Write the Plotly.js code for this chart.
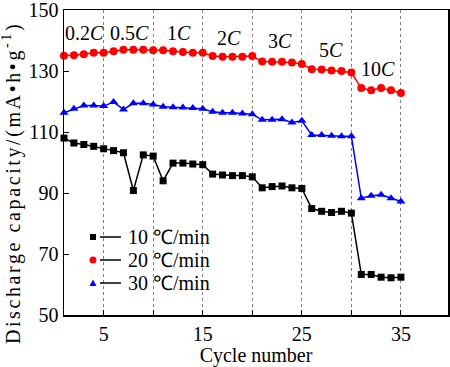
<!DOCTYPE html>
<html>
<head>
<meta charset="utf-8">
<script src="https://cdn.plot.ly/plotly-3.0.1.min.js"></script>
<style>html,body{margin:0;padding:0;background:#fff;}#chart{width:450px;height:367px;}</style>
</head>
<body>
<div id="chart"></div>
<script>
var cycles = [1,2,3,4,5,6,7,8,9,10,11,12,13,14,15,16,17,18,19,20,21,22,23,24,25,26,27,28,29,30,31,32,33,34,35];
var cap10 = [108.0,106.4,105.9,105.3,104.5,103.9,103.2,90.8,102.5,102.1,94.0,99.8,99.8,99.5,99.3,96.2,95.9,95.7,95.7,95.3,91.7,92.1,92.3,91.7,91.5,84.9,84.0,83.6,84.0,83.4,63.3,63.3,62.4,62.2,62.4];
var cap20 = [135.0,135.2,135.5,136.0,136.0,136.5,137.0,137.0,137.0,136.8,136.8,136.5,136.2,136.0,136.0,134.9,134.7,134.7,134.7,134.9,133.1,133.0,133.0,132.8,132.3,130.6,130.5,130.2,130.0,129.5,124.4,123.7,124.4,123.7,122.8];
var cap30 = [116.3,117.6,118.7,118.7,118.5,119.8,117.4,119.4,119.4,119.0,118.3,118.1,118.0,117.9,117.6,116.6,116.3,116.3,116.1,115.8,114.0,114.0,114.2,113.1,113.7,109.0,109.0,108.8,108.6,108.6,88.3,89.1,89.4,88.3,87.2];
var seriesNames = ['10 \u2103/min', '20 \u2103/min', '30 \u2103/min'];
var rateLabels = ['0.2', '0.5', '1', '2', '3', '5', '10'];
var xTickVals = [5, 15, 25, 35];
var yTickVals = [50, 70, 90, 110, 130, 150];

// label placement (layout only)
var rateX = [3.06, 7.6, 12.6, 17.7, 22.8, 27.9, 32.7];
var rateY = [142.5, 142.5, 142.5, 140.8, 139.9, 136.8, 130.6];

var FONT = 'Liberation Serif, Times New Roman, serif';
var colors = ['#000000', '#ff0000', '#0000ff'];
var symbols = ['square', 'circle', 'triangle-up'];
var msizes = [7, 8, 8];
var caps = [cap10, cap20, cap30];

var traces = caps.map(function (c, i) {
  return {
    x: cycles, y: c, name: seriesNames[i], type: 'scatter', mode: 'lines+markers',
    line: {color: colors[i], width: 1.5},
    marker: {color: colors[i], symbol: symbols[i], size: msizes[i]},
    cliponaxis: false, showlegend: false
  };
});

var annotations = rateLabels.map(function (t, i) {
  return {x: rateX[i], y: rateY[i], xref: 'x', yref: 'y', text: t + '<i>C</i>', showarrow: false,
    font: {family: FONT, size: 20, color: '#000'}, xanchor: 'center', yanchor: 'middle'};
});

// y axis title
annotations.push({
  xref: 'paper', yref: 'paper', x: -0.135, y: 0.433, textangle: -90, showarrow: false,
  text: '<span style="letter-spacing:2.6px">Discharge capacity/(mA\u2022h\u2022g<sup>-1</sup>)</span>',
  xanchor: 'center', yanchor: 'middle',
  font: {family: FONT, size: 20, color: '#000'}
});

// custom legend
var legX = 0.0755, legLine0 = 0.09375, legLine1 = 0.1484, legText = 0.1615;
var legRows = [0.2557, 0.1803, 0.1049];
var shapes = [];
legRows.forEach(function (ry, i) {
  annotations.push({xref: 'paper', yref: 'paper', x: legText, y: ry, text: seriesNames[i], showarrow: false,
    xanchor: 'left', yanchor: 'middle', font: {family: FONT, size: 20, color: '#000'}});
  shapes.push({type: 'line', xref: 'paper', yref: 'paper', x0: legLine0, x1: legLine1, y0: ry, y1: ry,
    line: {color: '#000', width: 1.5}});
  var base = {xref: 'paper', yref: 'paper', xsizemode: 'pixel', ysizemode: 'pixel', xanchor: legX, yanchor: ry,
    fillcolor: colors[i], line: {width: 0}};
  if (i === 0) shapes.push(Object.assign({type: 'rect', x0: -3, x1: 3, y0: -3, y1: 3}, base));
  if (i === 1) shapes.push(Object.assign({type: 'circle', x0: -3.5, x1: 3.5, y0: -3.5, y1: 3.5}, base));
  if (i === 2) shapes.push(Object.assign({type: 'path', path: 'M-3.5,-3 L3.5,-3 L0,3.5 Z'}, base));
});

var layout = {
  width: 450, height: 367,
  margin: {l: 64, r: 2, t: 10, b: 52},
  paper_bgcolor: '#fff', plot_bgcolor: '#fff',
  font: {family: FONT, size: 20, color: '#000'},
  showlegend: false,
  xaxis: {
    range: [1, 39.75], tickvals: xTickVals,
    ticks: 'inside', ticklen: 5, tickcolor: '#000', tickwidth: 1,
    showline: true, linecolor: '#000', linewidth: 1.5, mirror: true,
    showgrid: true, gridcolor: '#808080', griddash: 'dot', gridwidth: 1,
    minor: {tick0: 0, dtick: 5, ticks: 'inside', ticklen: 5, tickcolor: '#000', tickwidth: 1,
      showgrid: true, gridcolor: '#808080', griddash: 'dot', gridwidth: 1},
    zeroline: false, tickfont: {family: FONT, size: 20},
    title: {text: 'Cycle number', font: {family: FONT, size: 20}, standoff: 6}
  },
  yaxis: {
    range: [50, 150], tickvals: yTickVals, ticklabeloverflow: 'allow',
    ticks: 'inside', ticklen: 5, tickcolor: '#000', tickwidth: 1,
    showline: true, linecolor: '#000', linewidth: 1.5, mirror: true,
    showgrid: false, zeroline: false, tickfont: {family: FONT, size: 20}
  },
  annotations: annotations,
  shapes: shapes
};

Plotly.newPlot('chart', traces, layout, {displayModeBar: false, staticPlot: true});
</script>
</body>
</html>
